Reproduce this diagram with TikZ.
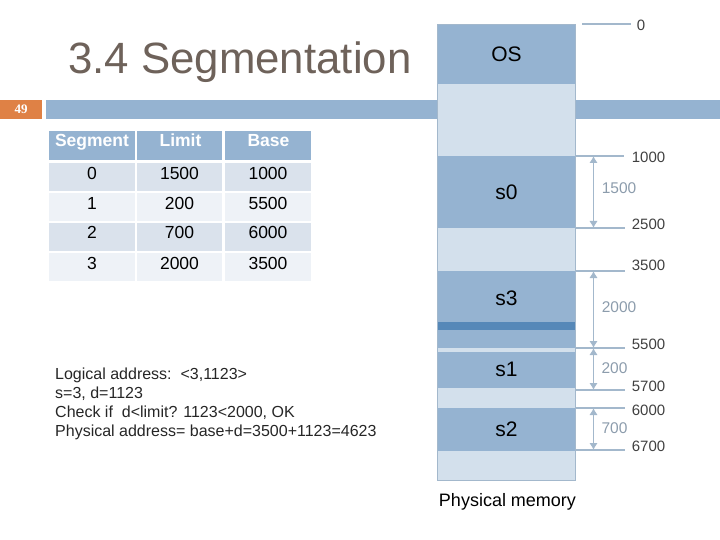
\documentclass[tikz,border=0pt]{standalone}
\usepackage{fontspec}
\setmainfont{Liberation Sans}
\newfontfamily\serifnum{Liberation Serif}
\usetikzlibrary{arrows.meta}
\definecolor{barblue}{HTML}{95B3D1}
\definecolor{freeblue}{HTML}{D3E0EC}
\definecolor{darkband}{HTML}{5688B8}
\definecolor{orangeb}{HTML}{DF8145}
\definecolor{rowa}{HTML}{DAE2EC}
\definecolor{rowb}{HTML}{EEF2F7}
\definecolor{greytext}{HTML}{8C9CAC}
\definecolor{titlecol}{HTML}{6E625A}
\definecolor{linecol}{HTML}{A3B8CC}
\tikzset{
  box/.style={inner sep=0pt,outer sep=0pt,minimum width=#1,anchor=center},
  seg/.style={box=138pt,fill=barblue,font=\fontsize{21}{24}\selectfont},
  freeseg/.style={box=138pt,fill=freeblue},
  head/.style={box=#1,fill=barblue,minimum height=29pt},
  headtext/.style={inner sep=0pt,anchor=base,text=white,font=\bfseries\fontsize{17.5}{20}\selectfont},
  celltext/.style={inner sep=0pt,anchor=base,font=\fontsize{17.5}{20}\selectfont},
  addr/.style={font=\fontsize{15}{18}\selectfont,text=black!75,inner sep=0pt},
  size/.style={font=\fontsize{15.5}{18}\selectfont,text=greytext,inner sep=0pt},
  rule/.style={draw=linecol,line width=1.8pt},
  span/.style={draw=linecol,line width=1.9pt,{Latex[length=7pt,width=8.5pt]}-{Latex[length=7pt,width=8.5pt]}}
}
\begin{document}
\begin{tikzpicture}[x=1pt,y=-1pt]
\useasboundingbox (0,0) rectangle (720,540);
% top bar
\fill[barblue] (46,100) rectangle (720,119);
\node[box=42pt,minimum height=19pt,fill=orangeb,text=white,font=\serifnum\bfseries\fontsize{13}{15}\selectfont] (pg) at (21,109.5) {49};
\node[anchor=base west,inner sep=0pt,text=titlecol,font=\fontsize{43.8}{48}\selectfont] (title) at (68,74) {3.4 Segmentation};
% table
\node[head=86pt] (hs) at (92,145.5) {};
\node[head=85pt] (hl) at (179.5,145.5) {};
\node[head=86pt] (hb) at (268,145.5) {};
\node[headtext] (hst) at (92,147) {Segment};
\node[headtext] (hlt) at (180.5,147) {Limit};
\node[headtext] (hbt) at (268.5,147) {Base};
\foreach \r/\cy/\tc/\col/\a/\b/\c in {0/177.5/180/rowa/0/1500/1000,1/207/210/rowb/1/200/5500,2/237/239/rowa/2/700/6000,3/266.5/269/rowb/3/2000/3500}{
  \node[box=86pt,minimum height=28pt,fill=\col] (a\r) at (92,\cy) {};
  \node[box=85pt,minimum height=28pt,fill=\col] (b\r) at (179.5,\cy) {};
  \node[box=86pt,minimum height=28pt,fill=\col] (c\r) at (268,\cy) {};
  \node[celltext] (ta\r) at (92,\tc) {\a};
  \node[celltext] (tb\r) at (179.5,\tc) {\b};
  \node[celltext] (tc\r) at (268,\tc) {\c};
}
% text
\node[anchor=north west,align=left,inner sep=0pt,text=black!85,font=\fontsize{16}{19}\selectfont] (calc) at (55,368)
 {Logical address:\ \ <3,1123>\\ s=3, d=1123\\ Check if\ \ d<limit? 1123<2000, OK\\ Physical address= base+d=3500+1123=4623};
% memory
\node[seg,minimum height=60.5pt] (os) at (506.5,54.25) {OS};
\node[freeseg,minimum height=71.5pt] (f1) at (506.5,120.25) {};
\node[seg,minimum height=72pt] (s0) at (506.5,192) {s0};
\node[freeseg,minimum height=43pt] (f2) at (506.5,249.5) {};
\node[box=138pt,fill=barblue,minimum height=77pt] (s3b) at (506.5,309.5) {};
\node[font=\fontsize{21}{24}\selectfont,inner sep=0pt] (s3) at (506.5,298) {s3};
\node[box=137pt,fill=darkband,minimum height=8pt] (band) at (506.5,326) {};
\node[freeseg,minimum height=3.5pt] (f3) at (506.5,349.75) {};
\node[seg,minimum height=36.5pt] (s1) at (506.5,369.75) {s1};
\node[freeseg,minimum height=20pt] (f4) at (506.5,398) {};
\node[seg,minimum height=43pt] (s2) at (506.5,429.5) {s2};
\node[freeseg,minimum height=29.5pt] (f5) at (506.5,465.75) {};
\draw[linecol,line width=0.7pt] (437.5,24) rectangle (575.5,480.5);
\node[inner sep=0pt,font=\fontsize{18}{20}\selectfont] (pm) at (507.5,502) {Physical memory};
% address labels
\node[addr] (t0) at (641,25.5) {0};
\node[addr] (t1000) at (648.5,157) {1000};
\node[addr] (t2500) at (648.5,224) {2500};
\node[addr] (t3500) at (648.5,265.5) {3500};
\node[addr] (t5500) at (648.5,344) {5500};
\node[addr] (t5700) at (648.5,386) {5700};
\node[addr] (t6000) at (648.5,410) {6000};
\node[addr] (t6700) at (648.5,446) {6700};
% sizes
\node[size] (z1500) at (619,188) {1500};
\node[size] (z2000) at (619,307) {2000};
\node[size] (z200) at (614.5,368) {200};
\node[size] (z700) at (614.5,428) {700};
% rules
\coordinate (r0a) at (582,24); \coordinate (r0b) at (631,24);
\draw[rule] (r0a) -- (r0b);
\foreach \n/\y/\e in {1000/156/624,2500/228/625,3500/271/625,5500/348/625,5700/390/625,6000/408/625,6700/450/625}{
  \coordinate (L\n) at (576,\y);
  \coordinate (R\n) at (\e,\y);
  \coordinate (A\n) at (593.5,\y);
  \draw[rule] (L\n) -- (R\n);
}
% spans
\draw[span] (A1000) -- (A2500);
\draw[span] (A3500) -- (A5500);
\draw[span] (A5500) -- (A5700);
\draw[span] (A6000) -- (A6700);
\end{tikzpicture}
\end{document}
